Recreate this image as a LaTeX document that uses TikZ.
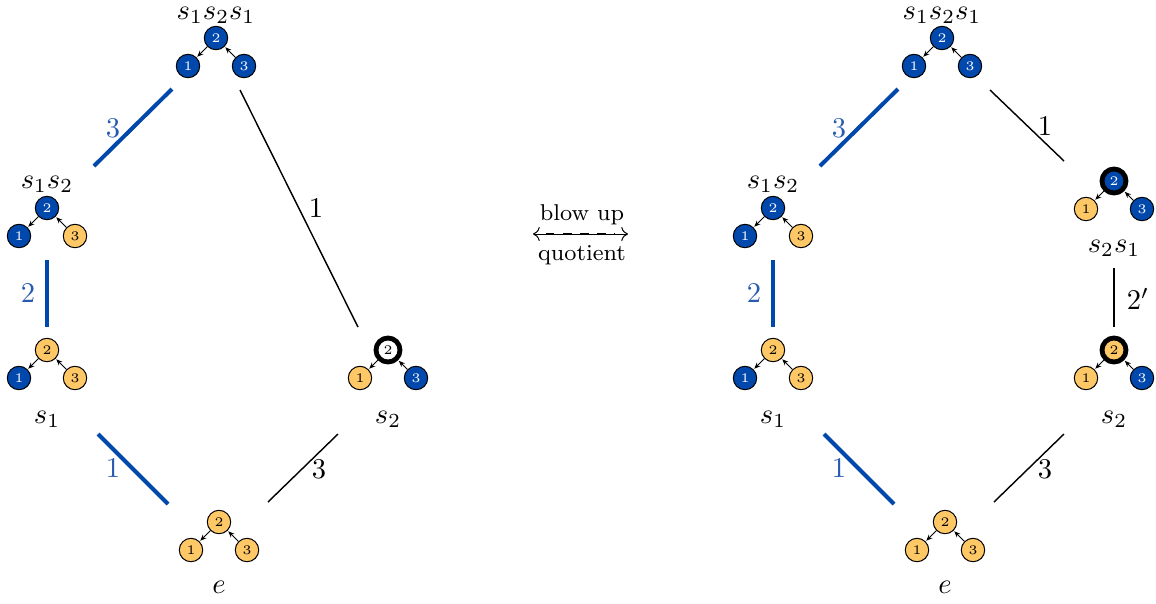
\documentclass[tikz,border=0pt]{standalone}
\usetikzlibrary{arrows.meta}
\definecolor{myblue}{RGB}{0,72,172}
\definecolor{myyellow}{RGB}{255,200,102}
\definecolor{lblblue}{RGB}{40,90,175}
\tikzset{
  vert/.style={circle, draw=black, line width=0.35pt, minimum size=8.2pt, inner sep=0pt, font=\fontsize{4.6}{4.6}\selectfont},
  bl/.style={vert, fill=myblue, text=white},
  yl/.style={vert, fill=myyellow, text=black},
  ringw/.style={vert, fill=white, text=black, line width=1.7pt, minimum size=8.4pt},
  ringb/.style={vert, fill=myblue, text=white, line width=1.7pt, minimum size=8.4pt},
  ringy/.style={vert, fill=myyellow, text=black, line width=1.7pt, minimum size=8.4pt},
  tri/.style={-{Stealth[length=2.2pt,width=1.8pt]}, line width=0.35pt, shorten >=0.3pt},
  bedge/.style={myblue, line width=1.4pt},
  kedge/.style={black, line width=0.5pt},
  lab/.style={font=\normalsize},
  blab/.style={font=\normalsize, text=lblblue},
}
\newcommand{\triad}[6]{%
  \node[#4] (#1-2) at (#2,#3) {2};
  \node[#5] (#1-1) at (#2-28,#3+28) {1};
  \node[#6] (#1-3) at (#2+28,#3+28) {3};
  \draw[tri] (#1-2) -- (#1-1);
  \draw[tri] (#1-3) -- (#1-2);
}
\begin{document}
\begin{tikzpicture}[x=0.35pt,y=-0.35pt]
\useasboundingbox (0,0) rectangle (1156,603);
% ---------- left diagram ----------
\triad{LT}{216}{38}{bl}{bl}{bl}
\node[lab] (LTl) at (216,15) {$s_1s_2s_1$};
\triad{LA}{47}{208}{bl}{bl}{yl}
\node[lab] (LAl) at (47,184) {$s_1s_2$};
\triad{LB}{47}{350}{yl}{bl}{yl}
\node[lab] (LBl) at (47,419) {$s_1$};
\triad{LC}{388}{350}{ringw}{yl}{bl}
\node[lab] (LCl) at (388,419) {$s_2$};
\triad{LE}{219}{522}{yl}{yl}{yl}
\node[lab] (LEl) at (219,587) {$e$};
\coordinate (l1a) at (172,89); \coordinate (l1b) at (94,166);
\draw[bedge] (l1a) -- (l1b);
\node[blab] (l1t) at (113,128) {3};
\coordinate (l2a) at (240,90); \coordinate (l2b) at (358,327);
\draw[kedge] (l2a) -- (l2b);
\node[lab] (l2t) at (316,208) {1};
\coordinate (l3a) at (47,260); \coordinate (l3b) at (47,327);
\draw[bedge] (l3a) -- (l3b);
\node[blab] (l3t) at (28,293) {2};
\coordinate (l4a) at (98,434); \coordinate (l4b) at (168,504);
\draw[bedge] (l4a) -- (l4b);
\node[blab] (l4t) at (113,468) {1};
\coordinate (l5a) at (338,434); \coordinate (l5b) at (268,502);
\draw[kedge] (l5a) -- (l5b);
\node[lab] (l5t) at (319,469) {3};
% ---------- middle ----------
\coordinate (ml) at (533,234); \coordinate (mr) at (628,234);
\draw[<->, line width=0.35pt] (ml) -- (mr);
\draw[line width=0.7pt, dash pattern=on 3pt off 3pt] ([xshift=4.5pt]ml) -- ([xshift=-4.5pt]mr);
\node[font=\footnotesize] (bu) at (582,215) {blow up};
\node[font=\footnotesize] (qu) at (582,255) {quotient};
% ---------- right diagram ----------
\triad{RT}{942}{38}{bl}{bl}{bl}
\node[lab] (RTl) at (942,15) {$s_1s_2s_1$};
\triad{RA}{773}{208}{bl}{bl}{yl}
\node[lab] (RAl) at (773,184) {$s_1s_2$};
\triad{RB}{773}{350}{yl}{bl}{yl}
\node[lab] (RBl) at (773,419) {$s_1$};
\triad{RC}{1114}{350}{ringy}{yl}{bl}
\node[lab] (RCl) at (1114,419) {$s_2$};
\triad{RD}{1114}{181}{ringb}{yl}{bl}
\node[lab] (RDl) at (1114,248) {$s_2s_1$};
\triad{RE}{945}{522}{yl}{yl}{yl}
\node[lab] (REl) at (945,587) {$e$};
\coordinate (r1a) at (898,89); \coordinate (r1b) at (820,166);
\draw[bedge] (r1a) -- (r1b);
\node[blab] (r1t) at (839,128) {3};
\coordinate (r2a) at (990,90); \coordinate (r2b) at (1064,161);
\draw[kedge] (r2a) -- (r2b);
\node[lab] (r2t) at (1045,126) {1};
\coordinate (r3a) at (773,260); \coordinate (r3b) at (773,327);
\draw[bedge] (r3a) -- (r3b);
\node[blab] (r3t) at (754,293) {2};
\coordinate (r6a) at (1114,268); \coordinate (r6b) at (1114,327);
\draw[kedge] (r6a) -- (r6b);
\node[lab] (r6t) at (1138,299) {$2'$};
\coordinate (r4a) at (824,434); \coordinate (r4b) at (894,504);
\draw[bedge] (r4a) -- (r4b);
\node[blab] (r4t) at (839,468) {1};
\coordinate (r5a) at (1064,434); \coordinate (r5b) at (994,502);
\draw[kedge] (r5a) -- (r5b);
\node[lab] (r5t) at (1045,469) {3};
\end{tikzpicture}
\end{document}
